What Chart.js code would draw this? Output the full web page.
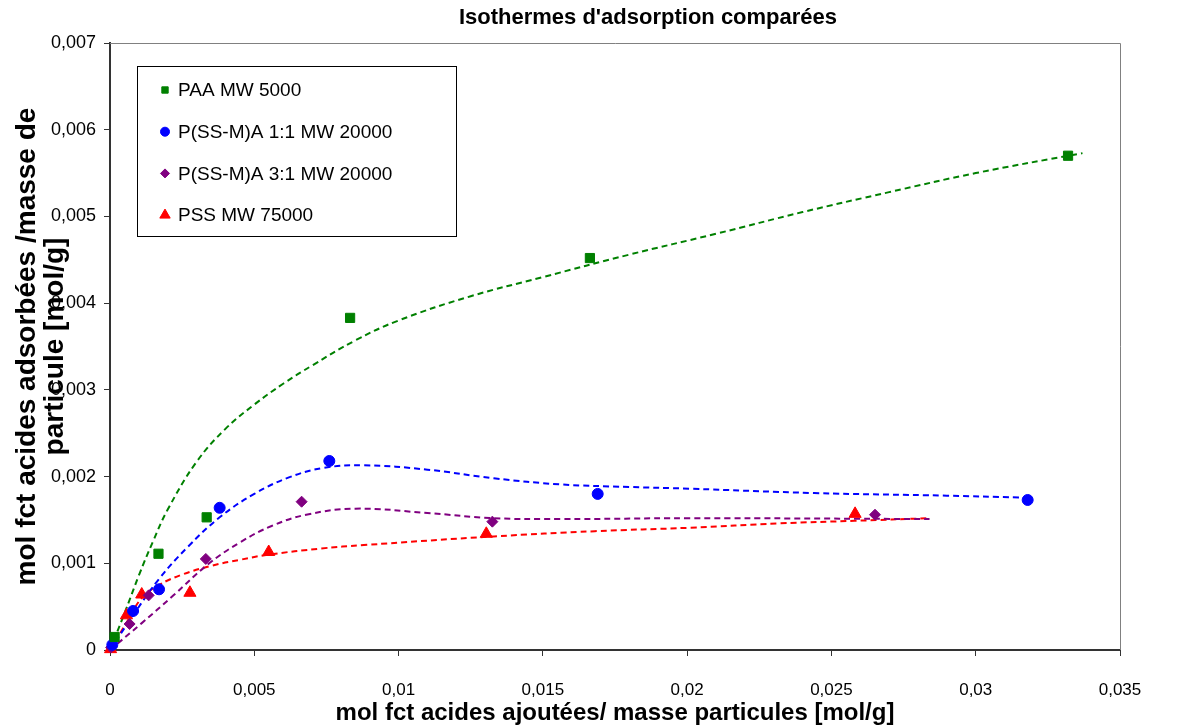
<!DOCTYPE html>
<html>
<head>
<meta charset="utf-8">
<title>Isothermes d'adsorption comparées</title>
<script src="https://cdn.jsdelivr.net/npm/chart.js@4.4.1/dist/chart.umd.min.js"></script>
<style>
    html, body { margin: 0; padding: 0; background: #ffffff; }
    #wrap { position: relative; width: 1183px; height: 728px; }
</style>
</head>
<body>
<div id="wrap"><canvas id="isoChart"></canvas></div>
<script>
const chartTitle = "Isothermes d'adsorption comparées";
const xAxisTitle = "mol fct acides ajoutées/ masse particules [mol/g]";
const yAxisTitle = ["mol fct acides adsorbées /masse de", "particule [mol/g]"];
const seriesNames = ["PAA MW 5000", "P(SS-M)A 1:1 MW 20000", "P(SS-M)A 3:1 MW 20000", "PSS MW 75000"];
const xTickLabels = ["0", "0,005", "0,01", "0,015", "0,02", "0,025", "0,03", "0,035"];
const yTickLabels = ["0", "0,001", "0,002", "0,003", "0,004", "0,005", "0,006", "0,007"];

// measured points
const paaX = [0.00016, 0.00168, 0.00335, 0.00832, 0.01663, 0.0332];
const paaY = [0.00015, 0.00111, 0.00153, 0.00383, 0.00452, 0.0057];
const ssma11X = [0.00008, 0.0008, 0.0017, 0.0038, 0.0076, 0.0169, 0.0318];
const ssma11Y = [0.00006, 0.00045, 0.0007, 0.00164, 0.00218, 0.0018, 0.00173];
const ssma31X = [0.00004, 0.00068, 0.00134, 0.00332, 0.00664, 0.01325, 0.02651];
const ssma31Y = [0.00003, 0.0003, 0.00063, 0.00105, 0.00171, 0.00148, 0.00156];
const pssX = [0.00002, 0.00057, 0.0011, 0.00277, 0.0055, 0.01304, 0.02582];
const pssY = [0.00001, 0.0004, 0.00064, 0.00066, 0.00113, 0.00134, 0.00157];

// dashed trend curves
const paaFitX = [0, 0.0005, 0.001, 0.0015, 0.002, 0.003, 0.004, 0.005, 0.006, 0.007, 0.0085, 0.01, 0.0125, 0.015, 0.018, 0.021, 0.024, 0.027, 0.03, 0.0337];
const paaFitY = [0, 0.00042, 0.00086, 0.00126, 0.00162, 0.00217, 0.00255, 0.00283, 0.00307, 0.00328, 0.00357, 0.0038, 0.00408, 0.0043, 0.00456, 0.0048, 0.00505, 0.00528, 0.0055, 0.00573];
const ssma11FitX = [0, 0.0008, 0.0017, 0.0027, 0.0038, 0.005, 0.0062, 0.0074, 0.0088, 0.011, 0.0133, 0.0156, 0.018, 0.0201, 0.0244, 0.029, 0.0315];
const ssma11FitY = [0, 0.0004, 0.00082, 0.00119, 0.00153, 0.0018, 0.00199, 0.0021, 0.00213, 0.00208, 0.00198, 0.00191, 0.00188, 0.00186, 0.00181, 0.00178, 0.00176];
const ssma31FitX = [0, 0.0011, 0.0022, 0.0034, 0.0045, 0.0056, 0.0068, 0.0085, 0.011, 0.0133, 0.0156, 0.0201, 0.0284];
const ssma31FitY = [0, 0.00031, 0.00063, 0.00099, 0.00124, 0.00143, 0.00156, 0.00163, 0.00158, 0.00152, 0.00151, 0.00152, 0.00151];
const pssFitX = [0, 0.0006, 0.0011, 0.0017, 0.0025, 0.0035, 0.0045, 0.0055, 0.0073, 0.0088, 0.0133, 0.0168, 0.0201, 0.0232, 0.0258, 0.0284];
const pssFitY = [0, 0.00033, 0.0006, 0.00075, 0.00087, 0.00097, 0.00104, 0.0011, 0.00117, 0.00121, 0.00131, 0.00137, 0.00141, 0.00146, 0.00149, 0.00152];

const seriesColors = ["#008000", "#0000ff", "#800080", "#ff0000"];
const pointStyles = ["rect", "circle", "rectRot", "triangle"];

const FONT = "'Liberation Sans', Arial, sans-serif";
Chart.defaults.font.family = FONT;
Chart.defaults.color = "#000000";

function toPoints(xs, ys) {
    return xs.map((x, i) => ({ x: x, y: ys[i] }));
}

function pointSet(idx, xs, ys, radius) {
    return {
        label: seriesNames[idx],
        data: toPoints(xs, ys),
        showLine: false,
        pointStyle: pointStyles[idx],
        pointRadius: radius,
        pointBackgroundColor: seriesColors[idx],
        pointBorderColor: seriesColors[idx],
        pointBorderWidth: 1,
        clip: false,
        order: 0,
    };
}

function fitSet(idx, xs, ys) {
    return {
        label: seriesNames[idx] + " (courbe)",
        data: toPoints(xs, ys),
        showLine: true,
        pointRadius: 0,
        borderColor: seriesColors[idx],
        borderWidth: 2,
        borderDash: [6, 4],
        tension: 0.4,
        fill: false,
        order: 1,
    };
}

// title, legend box and the grey plot frame
const decorations = {
    id: "decorations",
    afterDraw(chart) {
        const ctx = chart.ctx;
        const a = chart.chartArea;
        ctx.save();

        ctx.strokeStyle = "#808080";
        ctx.lineWidth = 1;
        ctx.beginPath();
        ctx.moveTo(a.left, a.top + 0.5);
        ctx.lineTo(a.right + 0.5, a.top + 0.5);
        ctx.lineTo(a.right + 0.5, a.bottom);
        ctx.stroke();

        ctx.fillStyle = "#000000";
        ctx.font = "bold 22px " + FONT;
        ctx.textAlign = "center";
        ctx.textBaseline = "middle";
        ctx.fillText(chartTitle, 648, 18);

        const bx = a.left + 27, by = a.top + 23, bw = 319, bh = 170;
        ctx.fillStyle = "#ffffff";
        ctx.fillRect(bx, by, bw, bh);
        ctx.strokeStyle = "#000000";
        ctx.strokeRect(bx + 0.5, by + 0.5, bw, bh);

        const legendRadius = [4.5, 4.5, 4.5, 6];
        ctx.font = "19px " + FONT;
        ctx.textAlign = "left";
        seriesNames.forEach((name, i) => {
            const y = by + 24 + i * 41.7;
            ctx.fillStyle = seriesColors[i];
            ctx.strokeStyle = seriesColors[i];
            Chart.helpers.drawPoint(ctx, { pointStyle: pointStyles[i], radius: legendRadius[i], borderWidth: 1, rotation: 0 }, bx + 28, y);
            ctx.fillStyle = "#000000";
            ctx.fillText(name, bx + 41, y + 1);
        });
        ctx.restore();
    },
};

const ctx = document.getElementById("isoChart").getContext("2d");
new Chart(ctx, {
    type: "scatter",
    data: {
        datasets: [
            pointSet(0, paaX, paaY, 6.5),
            pointSet(1, ssma11X, ssma11Y, 5.5),
            pointSet(2, ssma31X, ssma31Y, 5.5),
            pointSet(3, pssX, pssY, 7),
            fitSet(0, paaFitX, paaFitY),
            fitSet(1, ssma11FitX, ssma11FitY),
            fitSet(2, ssma31FitX, ssma31FitY),
            fitSet(3, pssFitX, pssFitY),
        ],
    },
    options: {
        responsive: true,
        maintainAspectRatio: false,
        animation: false,
        layout: {
            padding: { top: 43, right: 63, left: 0, bottom: 0 },
        },
        scales: {
            x: {
                type: "linear",
                min: 0,
                max: 0.035,
                afterFit: (scale) => { scale.height = 78; },
                afterBuildTicks: (scale) => {
                    scale.ticks = xTickLabels.map((l) => ({ value: parseFloat(l.replace(",", ".")) }));
                },
                ticks: {
                    callback: (value, index) => xTickLabels[index],
                    font: { size: 17 },
                    color: "#000000",
                    padding: 24,
                    maxRotation: 0,
                    autoSkip: false,
                },
                grid: {
                    display: true,
                    drawOnChartArea: false,
                    drawTicks: true,
                    tickLength: 6,
                    color: "#333333",
                    lineWidth: 1,
                },
                border: { display: true, color: "#333333", width: 2 },
                title: {
                    display: true,
                    text: xAxisTitle,
                    font: { size: 24, weight: "bold" },
                    padding: { top: 0, bottom: 0 },
                    color: "#000000",
                },
            },
            y: {
                type: "linear",
                min: 0,
                max: 0.007,
                afterFit: (scale) => { scale.width = 110; },
                afterBuildTicks: (scale) => {
                    scale.ticks = yTickLabels.map((l) => ({ value: parseFloat(l.replace(",", ".")) }));
                },
                ticks: {
                    callback: (value, index) => yTickLabels[index],
                    font: { size: 18 },
                    color: "#000000",
                    padding: 8,
                    autoSkip: false,
                },
                grid: {
                    display: true,
                    drawOnChartArea: false,
                    drawTicks: true,
                    tickLength: 6,
                    color: "#333333",
                    lineWidth: 1,
                },
                border: { display: true, color: "#333333", width: 2 },
                title: {
                    display: true,
                    text: yAxisTitle,
                    font: { size: 28, weight: "bold", lineHeight: 0.98 },
                    padding: { top: 14, bottom: 0 },
                    color: "#000000",
                },
            },
        },
        plugins: {
            legend: { display: false },
            title: { display: false },
            tooltip: { enabled: false },
        },
    },
    plugins: [decorations],
});
</script>
</body>
</html>
